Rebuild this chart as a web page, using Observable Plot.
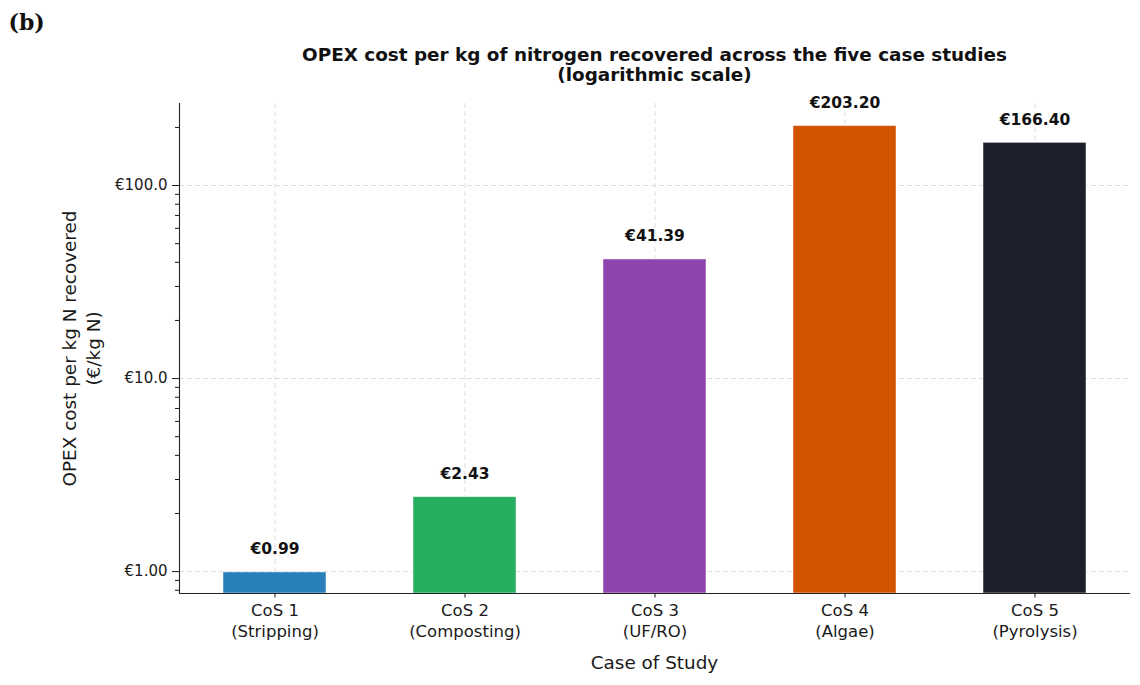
<!DOCTYPE html>
<html>
<head>
<meta charset="utf-8">
<script src="https://cdn.jsdelivr.net/npm/d3@7"></script>
<script src="https://cdn.jsdelivr.net/npm/@observablehq/plot@0.6"></script>
<style>
  html, body { margin: 0; padding: 0; background: white; }
</style>
</head>
<body>
<div id="chart"></div>
<script>
const categories = ["CoS 1", "CoS 2", "CoS 3", "CoS 4", "CoS 5"];
const processes = ["Stripping", "Composting", "UF/RO", "Algae", "Pyrolysis"];
const opex = [0.99, 2.43, 41.39, 203.20, 166.40];
const barColors = ["#2980b9", "#27ae60", "#8e44ad", "#d35400", "#1b202b"];
const majorTicks = [1, 10, 100];
const majorTickLabels = ["€1.00", "€10.0", "€100.0"];
const minorTicks = [0.8, 0.9, 2, 3, 4, 5, 6, 7, 8, 9, 20, 30, 40, 50, 60, 70, 80, 90, 200];
const yDomain = [0.77, 266];
const titleLines = ["OPEX cost per kg of nitrogen recovered across the five case studies", "(logarithmic scale)"];
const yLabel = "OPEX cost per kg N recovered\n(€/kg N)";
const xLabel = "Case of Study";
const panelLabel = "(b)";

const data = categories.map((c, i) => ({cat: c, proc: processes[i], value: opex[i]}));
const gridStyle = {stroke: "#d9d9d9", strokeOpacity: 1, strokeDasharray: "5,3", strokeWidth: 0.9};

const chart = Plot.plot({
  width: 1140,
  height: 685,
  marginLeft: 179,
  marginRight: 11,
  marginTop: 103,
  marginBottom: 92,
  style: {fontFamily: "DejaVu Sans", fontSize: "15px", color: "#1a1a1a", background: "white"},
  x: {domain: categories, paddingInner: 0.46, paddingOuter: 0.23, label: null},
  y: {type: "log", domain: yDomain, label: null},
  color: {domain: categories, range: barColors},
  marks: [
    Plot.gridY(majorTicks, gridStyle),
    Plot.gridX(categories, gridStyle),
    Plot.barY(data, {x: "cat", y1: yDomain[0], y2: "value", fill: "cat", stroke: "white", strokeWidth: 0.8, strokeOpacity: 0.6}),
    Plot.text(data, {x: "cat", y: "value", text: d => "€" + d.value.toFixed(2), dy: -23, fontWeight: "bold", fontSize: 15.5, fill: "#111"}),
    Plot.axisY(majorTicks, {tickFormat: d => majorTickLabels[majorTicks.indexOf(d)], tickSize: 7, tickPadding: 5, fontSize: 15, label: null}),
    Plot.axisY(minorTicks, {tickFormat: () => "", tickSize: 4, label: null}),
    Plot.axisX({tickFormat: d => d + "\n(" + processes[categories.indexOf(d)] + ")", tickSize: 4.5, tickPadding: 3.5, fontSize: 16.5, lineHeight: 1.27, label: null}),
    Plot.frame({anchor: "left", stroke: "#222", strokeWidth: 1.1}),
    Plot.frame({anchor: "bottom", stroke: "#222", strokeWidth: 1.1}),
    Plot.text([titleLines[0]], {frameAnchor: "top", lineAnchor: "middle", dy: -48, fontWeight: "bold", fontSize: 18.4, fill: "#111"}),
    Plot.text([titleLines[1]], {frameAnchor: "top", lineAnchor: "middle", dy: -28, fontWeight: "bold", fontSize: 18.4, fill: "#111"}),
    Plot.text([xLabel], {frameAnchor: "bottom", lineAnchor: "middle", dy: 70, fontSize: 18.4, fill: "#1a1a1a"}),
    Plot.text([yLabel], {frameAnchor: "left", textAnchor: "middle", lineAnchor: "middle", dx: -99, rotate: -90, fontSize: 18.4, lineHeight: 1.3, fill: "#1a1a1a"}),
    Plot.text([panelLabel], {frameAnchor: "top-left", lineAnchor: "middle", dx: -171, dy: -81, textAnchor: "start", fontFamily: "DejaVu Serif", fontWeight: "bold", fontSize: 22, fill: "#111"})
  ]
});
document.getElementById("chart").appendChild(chart);
</script>
</body>
</html>
